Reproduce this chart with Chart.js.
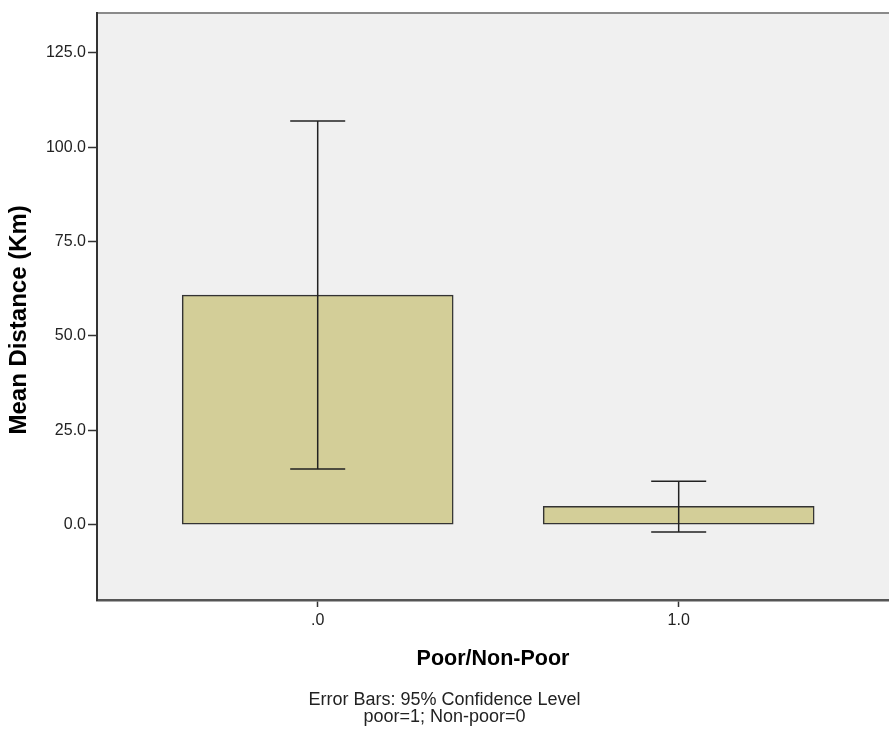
<!DOCTYPE html>
<html>
<head>
<meta charset="utf-8">
<script src="https://cdn.jsdelivr.net/npm/chart.js@4.4.1/dist/chart.umd.min.js"></script>
<style>
	html, body { margin: 0; padding: 0; background: #fff; overflow: hidden; }
	#wrap { width: 889px; height: 731px; }
</style>
</head>
<body>
<div id="wrap"><canvas id="distance_chart" width="889" height="731"></canvas></div>
<script>
// groups on the x axis (0 = non-poor, 1 = poor)
const groups = [0, 1];
const groupLabels = ['.0', '1.0'];
// mean distance per group, km
const meanDistance = [60.8, 4.8];
// 95% confidence interval bounds
const ciLower = [14.7, -2.0];
const ciUpper = [107.0, 11.5];
const yTicks = [0, 25, 50, 75, 100, 125];

const FONT = "'Liberation Sans', Arial, sans-serif";

const plotBackground = {
	id: 'plotBackground',
	beforeDraw(chart) {
		const {ctx, chartArea: a} = chart;
		ctx.save();
		ctx.fillStyle = '#f0f0f0';
		ctx.fillRect(a.left, a.top, a.right - a.left, a.bottom - a.top);
		// thin frame line along the top
		ctx.strokeStyle = '#8a8a8a';
		ctx.lineWidth = 2;
		ctx.beginPath();
		ctx.moveTo(a.left, a.top);
		ctx.lineTo(a.right, a.top);
		ctx.stroke();
		ctx.restore();
	}
};

const errorBars = {
	id: 'errorBars',
	afterDatasetsDraw(chart) {
		const {ctx, scales: {x, y}} = chart;
		const capHalf = 27.5;
		ctx.save();
		ctx.strokeStyle = '#222';
		ctx.lineWidth = 1.5;
		groups.forEach((g, i) => {
			const px = x.getPixelForValue(g);
			const top = y.getPixelForValue(ciUpper[i]);
			const bottom = y.getPixelForValue(ciLower[i]);
			ctx.beginPath();
			ctx.moveTo(px, top);
			ctx.lineTo(px, bottom);
			ctx.moveTo(px - capHalf, top);
			ctx.lineTo(px + capHalf, top);
			ctx.moveTo(px - capHalf, bottom);
			ctx.lineTo(px + capHalf, bottom);
			ctx.stroke();
		});
		ctx.restore();
	}
};

const data_distance = {
	datasets: [
		{
			label: 'Mean Distance (Km)',
			data: groups.map((g, i) => ({x: g, y: meanDistance[i]})),
			backgroundColor: '#d3ce98',
			borderColor: '#333',
			borderWidth: 1.5,
			borderSkipped: false,
			barThickness: 271,
		}
	]
};

const config_distance = {
	type: 'bar',
	data: data_distance,
	plugins: [plotBackground, errorBars],
	options: {
		responsive: false,
		animation: false,
		layout: {
			padding: {top: 13, right: 0, bottom: 0, left: 0}
		},
		plugins: {
			legend: {display: false},
			tooltip: {enabled: false},
			title: {
				display: true,
				position: 'bottom',
				text: ['Error Bars: 95% Confidence Level', 'poor=1; Non-poor=0'],
				color: '#222',
				font: {family: FONT, size: 18, weight: 'normal', lineHeight: 17 / 18},
				padding: {top: 0, bottom: 5.5},
			}
		},
		scales: {
			x: {
				type: 'linear',
				min: -0.6114,
				max: 1.5826,
				offset: false,
				afterBuildTicks: scale => {
					scale.ticks = groups.map(v => ({value: v}));
				},
				afterFit: scale => { scale.height = 91.5; },
				ticks: {
					callback: v => groupLabels[groups.indexOf(v)],
					color: '#222',
					font: {family: FONT, size: 16},
					padding: 4,
					maxRotation: 0,
				},
				grid: {
					offset: false,
					drawOnChartArea: false,
					tickLength: 7,
					tickWidth: 1.5,
					tickColor: '#333',
				},
				border: {color: '#555', width: 2.5},
				title: {
					display: true,
					text: 'Poor/Non-Poor',
					color: '#000',
					font: {family: FONT, size: 21.5, weight: 'bold'},
					padding: {top: 0, bottom: 20},
				}
			},
			y: {
				min: -20,
				max: 135.6,
				afterBuildTicks: scale => {
					scale.ticks = yTicks.map(v => ({value: v}));
				},
				afterFit: scale => { scale.width = 97; },
				ticks: {
					callback: v => v.toFixed(1),
					color: '#222',
					font: {family: FONT, size: 16},
					padding: 2,
				},
				grid: {
					drawOnChartArea: false,
					tickLength: 9,
					tickWidth: 1.5,
					tickColor: '#333',
				},
				border: {color: '#333', width: 2},
				title: {
					display: true,
					// trailing spaces nudge the rotated title down a little
					text: 'Mean Distance (Km)    ',
					color: '#000',
					font: {family: FONT, size: 24, weight: 'bold'},
					padding: {top: 5, bottom: 0},
				}
			}
		}
	}
};

const distance_chart = new Chart(
	document.getElementById('distance_chart'),
	config_distance
);
</script>
</body>
</html>
